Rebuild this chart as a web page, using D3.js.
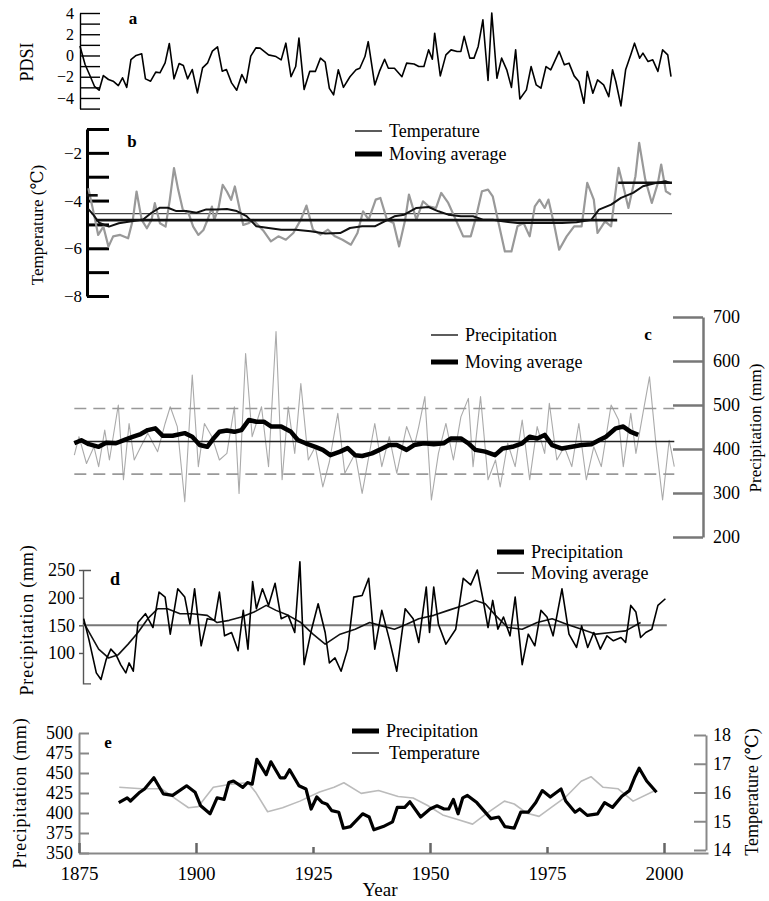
<!DOCTYPE html>
<html lang="en">
<head>
<meta charset="UTF-8">
<title>PDSI, temperature and precipitation 1875-2000</title>
<style>
  body { margin: 0; background: #fff; }
  svg { display: block; font-family: "Liberation Serif", "DejaVu Serif", serif; }
</style>
</head>
<body>
<svg id="chart" width="769" height="901"></svg>
<script src="https://d3js.org/d3.v7.min.js"></script>
<script>
// ---- data: [year, value] ----
const aPdsi = [[1875.2,0.9],[1876.3,-0.85],[1877.4,-1.95],[1878.3,-2.9],[1879.3,-3.27],[1880.2,-1.89],[1881.3,-2.26],[1882.3,-2.42],[1883.4,-2.83],[1884.3,-2.1],[1885.2,-3],[1886.1,-0.38],[1887.2,0],[1888.4,0.16],[1889.2,-2.2],[1890.3,-2.42],[1891.4,-1.57],[1892.3,-1.63],[1893.4,-0.69],[1894.3,1.13],[1895.3,-2.2],[1896.4,-0.75],[1897.3,-0.94],[1898.2,-2.2],[1899.2,-1.32],[1900.3,-3.52],[1901.4,-1.16],[1902.5,-0.69],[1903.5,0.41],[1904.6,0.82],[1905.6,-1.48],[1906.5,-1.32],[1907.6,-2.58],[1908.7,-3.27],[1909.8,-1.79],[1910.7,-2.58],[1911.7,-0.06],[1912.8,0.72],[1913.7,0.69],[1915.5,0.06],[1917.1,-0.1],[1918.2,-0.41],[1919.2,1.16],[1920.3,-2],[1921.3,-1.04],[1922,1.64],[1923.1,-3.2],[1924.3,-1.5],[1925.5,-1.5],[1926.6,-0.25],[1927.6,-0.63],[1928.5,-3.1],[1929.4,-3.7],[1930.4,-1.35],[1931.5,-3],[1932.9,-2],[1934.2,-1.35],[1935,-1.2],[1936.1,-0.1],[1936.8,1.3],[1938.2,-2.77],[1939.2,-1.5],[1940.3,-0.35],[1941.1,-1.2],[1942.4,-1.2],[1944,-2],[1945,-0.72],[1946.6,-0.8],[1947.6,-1.04],[1948.7,-1.04],[1949.7,0.53],[1950.5,-0.35],[1951,2.1],[1952.2,-1.92],[1953.4,0.06],[1954.5,0.53],[1955.8,0.38],[1956.6,0.38],[1957.3,1.8],[1958.5,-0.25],[1959.4,-0.25],[1960.3,0.85],[1961.3,3.36],[1962.4,-2.36],[1963.2,4],[1964.3,-2.14],[1965.3,-0.25],[1966.4,-1.35],[1967.4,-3],[1968.3,0.53],[1969.2,-4.1],[1970.6,-3.24],[1971.6,-1.04],[1972.7,-2.77],[1973.7,-3.08],[1974.8,-1.04],[1975.8,-1.35],[1977.6,0.38],[1978.7,-0.88],[1979.7,-0.72],[1980.8,-1.92],[1981.8,-2.45],[1982.9,-4.5],[1983.6,-1.5],[1984.8,-3.55],[1985.8,-2.3],[1987.1,-2.77],[1988.2,-3.87],[1989,-1.35],[1989.7,-2.45],[1990.8,-4.75],[1991.8,-1.35],[1992.9,0.06],[1993.7,1.16],[1994.8,-0.25],[1995.5,0.22],[1996.6,-0.57],[1997.6,-0.41],[1998.7,-1.5],[1999.7,0.53],[2000.8,0.06],[2001.5,-2]];

const bTemp = [[1877,-3.48],[1878,-4.39],[1879.1,-5.44],[1880.2,-5.09],[1881.3,-5.93],[1882.3,-5.5],[1883.8,-5.44],[1885.5,-5.58],[1886.5,-4.81],[1887.3,-3.62],[1888.4,-4.81],[1889.5,-5.16],[1890.5,-4.81],[1891.2,-4.11],[1892.3,-4.95],[1893.5,-5.09],[1894.4,-3.97],[1895.3,-2.64],[1896.2,-3.55],[1897.2,-4.39],[1898.4,-4.53],[1899.4,-5.09],[1900.5,-5.44],[1901.6,-5.23],[1902.6,-4.74],[1903.4,-4.25],[1903.9,-4.81],[1904.8,-4.32],[1905.7,-3.34],[1906.6,-3.62],[1907.5,-3.97],[1908.3,-3.41],[1909.3,-4.32],[1910.1,-5.02],[1911.2,-4.95],[1912.2,-4.81],[1914.5,-5.29],[1916,-5.71],[1917.6,-5.5],[1919.2,-5.64],[1920.8,-5.36],[1922.4,-4.8],[1923.6,-4.21],[1925,-5.22],[1926.6,-5.43],[1928.2,-5.22],[1929.7,-5.5],[1931.3,-5.64],[1933.1,-5.85],[1934.5,-5.36],[1935.7,-4.45],[1936.9,-4.8],[1938.4,-3.96],[1939.4,-3.89],[1940.8,-4.8],[1942.2,-4.94],[1943.4,-5.92],[1944.7,-4.8],[1945.5,-3.75],[1947.1,-4.8],[1948.5,-4.03],[1949.7,-4.24],[1951.3,-4.31],[1952.4,-3.68],[1953.9,-4.1],[1955.5,-4.8],[1957.1,-5.5],[1958.7,-5.5],[1959.7,-4.8],[1961.1,-3.61],[1962.4,-3.54],[1963.4,-3.82],[1964.8,-5.08],[1966,-6.13],[1967.4,-6.13],[1968.7,-5.08],[1970,-4.94],[1971.3,-5.5],[1972.4,-4.24],[1973.4,-3.96],[1974.5,-4.31],[1975.3,-3.96],[1976.6,-5.08],[1977.6,-6.06],[1979.2,-5.5],[1980.8,-5.08],[1982.4,-5.08],[1983.6,-3.26],[1985,-3.96],[1985.8,-5.36],[1987.4,-4.87],[1988.7,-5.08],[1990.3,-2.63],[1991.3,-3.4],[1992.4,-4.31],[1993.9,-2.98],[1994.7,-1.58],[1996,-3.12],[1997.4,-4.1],[1998.7,-3.26],[1999.4,-2.49],[2000.4,-3.61],[2001.5,-3.75]];
const bMoving = [[1876.9,-4.34],[1878,-4.58],[1879.3,-4.93],[1881.4,-5.09],[1883.5,-4.95],[1886.6,-4.86],[1888.7,-4.79],[1890.5,-4.51],[1892.3,-4.3],[1894,-4.3],[1895.8,-4.44],[1897.9,-4.44],[1900.1,-4.51],[1902.2,-4.37],[1904.4,-4.37],[1906.6,-4.35],[1908.7,-4.44],[1910.8,-4.65],[1912.9,-5.08],[1915.5,-5.15],[1918.2,-5.22],[1921.3,-5.22],[1924.5,-5.29],[1927.6,-5.38],[1930.8,-5.36],[1932.9,-5.15],[1935.5,-5.08],[1938.2,-5.08],[1940.3,-4.87],[1942.4,-4.66],[1944.5,-4.59],[1947.1,-4.31],[1949.7,-4.27],[1951.8,-4.45],[1953.9,-4.59],[1956.6,-4.66],[1959.2,-4.66],[1961.3,-4.8],[1963.4,-4.8],[1965.5,-4.87],[1968.7,-4.94],[1971.8,-4.94],[1975,-4.94],[1978.2,-4.94],[1981.3,-4.91],[1984.5,-4.8],[1986.1,-4.38],[1988.7,-4.17],[1990.8,-3.89],[1993.4,-3.68],[1995.5,-3.4],[1998.2,-3.26],[2000.3,-3.19],[2001.3,-3.26]];
// reference levels in b: [from, to, value]
const bMean = [1877.6, 2001.7, -4.55];
const bLevels = [[1876.6, 1879, -3.78], [1878.6, 1990, -4.82], [1990.2, 2001.7, -3.25]];

const cPrecip = [[1874,386],[1875,428],[1876.6,367],[1878.2,405],[1879.2,360],[1880.5,443],[1881.5,375],[1883.4,500],[1884.5,330],[1885.7,458],[1886.8,375],[1888.2,405],[1889.7,436],[1891.8,394],[1893.4,458],[1894.5,496],[1896,451],[1897.6,280],[1899.2,568],[1900.5,360],[1901.8,458],[1903.4,428],[1905,375],[1906.6,390],[1908.2,496],[1909.2,299],[1910.6,617],[1912,428],[1914,496],[1915.5,360],[1917.1,667],[1918.4,330],[1919.7,496],[1921.1,390],[1922.4,549],[1924,375],[1925.5,405],[1927.1,314],[1928.5,371],[1930.3,481],[1931.8,345],[1934,390],[1935.5,299],[1938.2,458],[1939.7,360],[1941.3,428],[1942.9,345],[1945,451],[1946.6,405],[1947.6,451],[1948.9,519],[1950.3,284],[1951.8,390],[1953.4,458],[1955,375],[1956.6,473],[1958.2,515],[1959.2,360],[1960.8,519],[1962.4,330],[1964,375],[1965,314],[1966.6,413],[1968.2,360],[1969.7,466],[1971.3,330],[1972.9,451],[1974.5,390],[1975.5,504],[1977.1,375],[1978.7,405],[1980.3,360],[1981.8,458],[1983.4,330],[1985,405],[1986.6,360],[1988.7,500],[1990.3,466],[1991.3,360],[1992.9,481],[1994,390],[1995.5,481],[1996.9,564],[1998.2,420],[1999.7,284],[2001.1,420],[2002.2,360]];
const cMoving = [[1874,413],[1875.5,420],[1877.1,411],[1879.2,405],[1880.8,414],[1882.9,413],[1885,422],[1886.6,428],[1888.2,434],[1889.7,443],[1891.3,447],[1892.9,430],[1895,430],[1897.6,436],[1899.2,428],[1900.8,409],[1902.4,405],[1903.6,422],[1905,439],[1906.6,442],[1908.2,439],[1909.7,443],[1911.3,466],[1912.9,462],[1914.5,462],[1916.1,451],[1918.2,451],[1920.3,439],[1921.8,420],[1923.4,413],[1925.5,405],[1927.1,398],[1928.7,386],[1930.8,394],[1932.4,402],[1934,386],[1935.5,384],[1937.6,390],[1939.2,398],[1941.3,409],[1942.9,409],[1945,398],[1946.6,409],[1948.7,413],[1950.8,411],[1952.9,413],[1954.5,424],[1956.6,424],[1958.2,413],[1959.7,398],[1961.8,394],[1963.9,386],[1965.5,401],[1967.6,405],[1969.7,413],[1971.3,428],[1972.9,424],[1974.5,432],[1976.1,409],[1978.2,401],[1980.3,405],[1982.4,409],[1984.5,411],[1986.1,420],[1987.6,428],[1989.7,447],[1991.3,451],[1992.9,439],[1994.5,432]];
const cSpan = [1874, 2002.2];
const cMean = 417;
const cBand = [343, 492];

const dPrecip = [[1876,162],[1877.1,125],[1878.7,64],[1879.7,52],[1880.8,88],[1881.8,107],[1882.9,97],[1883.9,79],[1885,64],[1885.7,82],[1886.6,67],[1887.6,155],[1889.2,171],[1890.8,146],[1892.1,210],[1893.4,201],[1894.5,134],[1896.1,216],[1897.6,201],[1898.7,152],[1899.7,216],[1901.1,113],[1902.4,162],[1904,159],[1905,210],[1906.1,131],[1907.6,137],[1909,104],[1910.1,177],[1911.1,107],[1912.1,229],[1912.9,180],[1914.2,216],[1915.5,186],[1916.9,226],[1918.2,162],[1919.7,168],[1921.1,137],[1922.2,265],[1923.1,79],[1924.7,143],[1926.1,189],[1927.6,137],[1928.5,82],[1929.7,91],[1931,67],[1932.4,107],[1933.7,201],[1935.5,204],[1936.9,235],[1938.2,107],[1939.7,177],[1941.3,125],[1942.9,67],[1944.7,180],[1946.4,162],[1947.6,119],[1949.2,219],[1949.9,137],[1950.8,219],[1951.8,152],[1953.4,116],[1955.5,143],[1957.1,235],[1958.7,223],[1960.1,250],[1961.3,198],[1962.4,146],[1963.4,195],[1964.5,143],[1965.7,165],[1967.1,131],[1968.2,201],[1969.7,79],[1971,134],[1972.4,113],[1973.7,177],[1975,165],[1976.3,131],[1978.2,216],[1979.7,134],[1981.3,110],[1982.4,149],[1983.7,110],[1985,137],[1986.4,107],[1987.8,131],[1989.2,122],[1990.8,128],[1991.8,119],[1992.9,186],[1994,174],[1995,128],[1996.1,137],[1997.4,143],[1998.7,186],[2000.3,198]];
const dMoving = [[1876,155],[1877.6,131],[1879.2,107],[1881.3,91],[1883.4,97],[1885.5,116],[1887.6,137],[1889.7,162],[1891.8,180],[1893.9,180],[1896.6,171],[1899.2,171],[1902.4,168],[1904.5,155],[1907.1,159],[1909.7,165],[1912.4,174],[1915,186],[1917.1,177],[1919.7,168],[1922.4,155],[1925,134],[1927.6,116],[1930.8,134],[1934,143],[1937.1,155],[1939.7,149],[1942.4,143],[1945,152],[1947.6,162],[1950.8,168],[1953.9,177],[1957.1,186],[1959.7,195],[1961.8,189],[1964,168],[1966.6,146],[1969.7,143],[1972.9,155],[1976.1,162],[1979.2,152],[1982.4,143],[1985.5,134],[1988.7,137],[1991.8,140],[1995,155]];
const dSpan = [1875.8, 2000.6];
const dMean = 150;

const ePrecip = [[1883.5,413],[1885.3,419],[1886,415],[1888,426],[1889,430],[1891,444],[1893,424],[1895,422],[1898,434],[1899.8,426],[1901,409],[1903,399],[1904.5,419],[1906,417],[1907,438],[1908,440],[1910,432],[1911,438],[1912,436],[1913,467],[1915,448],[1916,464],[1918,444],[1919,444],[1920,454],[1922,434],[1923.5,430],[1924.6,405],[1925.8,420],[1927,413],[1928,411],[1929,403],[1930.5,401],[1931.5,381],[1933,383],[1935.6,399],[1937,395],[1938,379],[1940,383],[1942,389],[1943,407],[1944.6,407],[1945.7,414],[1948,395],[1950,405],[1951.5,409],[1953,405],[1954,405],[1955,417],[1956,399],[1957,419],[1958,422],[1960,413],[1961.5,403],[1963,393],[1964.7,395],[1966,383],[1968,381],[1969.4,401],[1971,401],[1972.6,413],[1974,428],[1975.7,420],[1978,430],[1979,415],[1981,401],[1982,405],[1983.6,397],[1985.8,399],[1987.3,413],[1989,407],[1991,421],[1992.6,428],[1993.7,444],[1994.7,456],[1996.3,440],[1998.4,426]];
const eTemp = [[1883.6,16.18],[1888.4,16.13],[1892.6,16.13],[1895.8,15.76],[1898.4,15.47],[1900.5,15.51],[1903.7,16.18],[1907.4,16.29],[1911.1,16.34],[1912.7,16.02],[1915.3,15.33],[1918.5,15.47],[1922.2,15.7],[1926.4,16.02],[1929.5,16.18],[1931.6,16.34],[1935.3,15.97],[1939,16.07],[1943.2,15.86],[1946.4,15.81],[1949.6,15.54],[1952.7,15.22],[1955.9,15.06],[1959.1,14.9],[1962.2,15.28],[1965.9,15.7],[1968,15.6],[1970.7,15.28],[1973.3,15.17],[1976,15.49],[1979.1,15.86],[1982.3,16.39],[1984.4,16.55],[1987,16.18],[1990.2,16.13],[1993.4,15.7],[1998.1,16.07]];

const yearTicks = [1875, 1900, 1925, 1950, 1975, 2000];

// ---- drawing ----
const svg = d3.select("#chart");
const x = d3.scaleLinear().domain([1875, 2000]).range([79, 664]);
const fmt = d3.format("d");

function drawLine(data, y, color, width) {
  svg.append("path").datum(data)
    .attr("fill", "none")
    .attr("stroke", color)
    .attr("stroke-width", width)
    .attr("stroke-linejoin", "round")
    .attr("d", d3.line().x(d => x(d[0])).y(d => y(d[1])));
}

function hline(from, to, v, y, color, width, dash) {
  svg.append("line")
    .attr("x1", x(from)).attr("x2", x(to))
    .attr("y1", y(v)).attr("y2", y(v))
    .attr("stroke", color).attr("stroke-width", width)
    .attr("stroke-dasharray", dash || null);
}

function styleAxis(g, color, width, size) {
  g.attr("font-family", null);
  g.select(".domain").attr("stroke", color).attr("stroke-width", width);
  g.selectAll(".tick line").attr("stroke", color).attr("stroke-width", width);
  g.selectAll(".tick text").attr("fill", "#000").attr("font-size", size);
}

function text(x0, y0, s, size, opts = {}) {
  const t = svg.append("text").attr("x", x0).attr("y", y0)
    .attr("font-size", size).attr("fill", "#000").text(s);
  if (opts.bold) t.attr("font-weight", "bold");
  if (opts.anchor) t.attr("text-anchor", opts.anchor);
  if (opts.rotate) t.attr("transform", `rotate(-90,${x0},${y0})`);
  if (opts.spacing) t.attr("letter-spacing", opts.spacing);
  return t;
}

function legend(x0, y0, label, width, size) {
  svg.append("line").attr("x1", x0).attr("x2", x0 + 27)
    .attr("y1", y0).attr("y2", y0)
    .attr("stroke", "#000").attr("stroke-width", width);
  text(x0 + 34, y0 + 6, label, size);
}

// panel a: PDSI
const yA = d3.scaleLinear().domain([-5, 4]).range([108.6, 13]);
svg.append("g").attr("transform", "translate(80,0)")
  .call(d3.axisLeft(yA).tickValues(d3.range(-5, 5)).tickSize(-20).tickSizeOuter(0)
    .tickPadding(6).tickFormat(d => (d % 2 === 0 && d > -5) ? d3.format("")(d) : ""))
  .call(g => styleAxis(g, "#000", 1.4, 16));
drawLine(aPdsi, yA, "#000", 1.6);
text(133, 24, "a", 17, {bold: true, anchor: "middle"});
text(33, 62, "PDSI", 18, {rotate: true, anchor: "middle"});

// panel b: temperature
const yB = d3.scaleLinear().domain([-8, -1]).range([296, 129]);
svg.append("g").attr("transform", "translate(87,0)")
  .call(d3.axisLeft(yB).tickValues(d3.range(-8, 0)).tickSize(-22).tickSizeOuter(0)
    .tickPadding(5).tickFormat(d => d % 2 === 0 ? d3.format("")(d) : ""))
  .call(g => styleAxis(g, "#000", 3, 17));
hline(bMean[0], bMean[1], bMean[2], yB, "#444", 1.2);
drawLine(bTemp, yB, "#999", 2.2);
bLevels.forEach(l => hline(l[0], l[1], l[2], yB, "#111", 2.6));
drawLine(bMoving, yB, "#111", 2);
text(132, 147, "b", 17, {bold: true, anchor: "middle"});
text(43, 225, "Temperature (\u2103)", 17, {rotate: true, anchor: "middle"});
svg.append("line").attr("x1", 355).attr("x2", 382).attr("y1", 131).attr("y2", 131)
  .attr("stroke", "#333").attr("stroke-width", 1.6);
text(389, 137, "Temperature", 18);
legend(355, 154, "Moving average", 5, 18);

// panel c: precipitation
const yC = d3.scaleLinear().domain([200, 700]).range([537, 317]);
svg.append("g").attr("transform", "translate(703,0)")
  .call(d3.axisRight(yC).tickValues(d3.range(200, 701, 100)).tickSize(-30).tickSizeOuter(0)
    .tickPadding(10).tickFormat(fmt))
  .call(g => styleAxis(g, "#777", 2.5, 18));
drawLine(cPrecip, yC, "#aaa", 1.1);
cBand.forEach(v => hline(cSpan[0], cSpan[1], v, yC, "#999", 1.6, "12,7"));
hline(cSpan[0], cSpan[1], cMean, yC, "#222", 1.5);
drawLine(cMoving, yC, "#000", 4.5);
text(648, 340, "c", 17, {bold: true, anchor: "middle"});
text(761, 428, "Precipitation (mm)", 17, {rotate: true, anchor: "middle"});
svg.append("line").attr("x1", 431).attr("x2", 458).attr("y1", 335).attr("y2", 335)
  .attr("stroke", "#333").attr("stroke-width", 1.6);
text(465, 341, "Precipitation", 18);
legend(431, 362, "Moving average", 5, 18);

// panel d: precipitation
const yD = d3.scaleLinear().domain([45, 250]).range([683.4, 570]);
svg.append("g").attr("transform", "translate(83,0)")
  .call(d3.axisLeft(yD).tickValues([100, 150, 200, 250]).tickSize(4).tickSizeOuter(-8)
    .tickPadding(4).tickFormat(fmt))
  .call(g => styleAxis(g, "#555", 1.4, 18));
hline(dSpan[0], dSpan[1], dMean, yD, "#777", 2);
drawLine(dMoving, yD, "#111", 1.6);
drawLine(dPrecip, yD, "#000", 1.6);
text(115, 585, "d", 18, {bold: true, anchor: "middle"});
text(33, 620, "Precipitation (mm)", 18, {rotate: true, anchor: "middle", spacing: 0.8});
legend(497, 552, "Precipitation", 5, 18);
svg.append("line").attr("x1", 497).attr("x2", 524).attr("y1", 573).attr("y2", 573)
  .attr("stroke", "#333").attr("stroke-width", 1.6);
text(531, 579, "Moving average", 18);

// panel e: precipitation and temperature
const yE = d3.scaleLinear().domain([350, 500]).range([853, 733]);
const yET = d3.scaleLinear().domain([14, 18]).range([850, 735]);
const xAxisScale = x.copy().domain([1875, x.invert(708)]).range([79, 708]);
svg.append("g").attr("transform", "translate(79,0)")
  .call(d3.axisLeft(yE).tickValues(d3.range(350, 501, 25)).tickSize(-10).tickSizeOuter(0)
    .tickPadding(6).tickFormat(fmt))
  .call(g => styleAxis(g, "#888", 2, 18));
svg.append("g").attr("transform", "translate(706,0)")
  .call(d3.axisRight(yET).tickValues([14, 15, 16, 17, 18]).tickSize(-12).tickSizeOuter(0)
    .tickPadding(7).tickFormat(fmt))
  .call(g => styleAxis(g, "#888", 2, 18));
svg.append("g").attr("transform", "translate(0,853)")
  .call(d3.axisBottom(xAxisScale).tickValues(yearTicks).tickSize(-10).tickSizeOuter(0)
    .tickPadding(14).tickFormat(fmt))
  .call(g => styleAxis(g, "#888", 2, 19))
  .call(g => g.selectAll(".tick line").attr("y2", d => (d === 1925 || d === 1975) ? -6 : -10)
    .attr("stroke", "#666").attr("stroke-width", 2.5));
drawLine(eTemp, yET, "#bbb", 1.6);
drawLine(ePrecip, yE, "#000", 3.2);
text(108, 748, "e", 17, {bold: true, anchor: "middle"});
text(26, 793, "Precipitation (mm)", 18, {rotate: true, anchor: "middle", spacing: 0.8});
text(758, 792, "Temperature (\u2103)", 18, {rotate: true, anchor: "middle"});
text(380, 896, "Year", 19, {anchor: "middle"});
legend(352, 731, "Precipitation", 5, 18);
svg.append("line").attr("x1", 352).attr("x2", 379).attr("y1", 753).attr("y2", 753)
  .attr("stroke", "#444").attr("stroke-width", 1.6);
text(389, 759, "Temperature", 18);
</script>
</body>
</html>
